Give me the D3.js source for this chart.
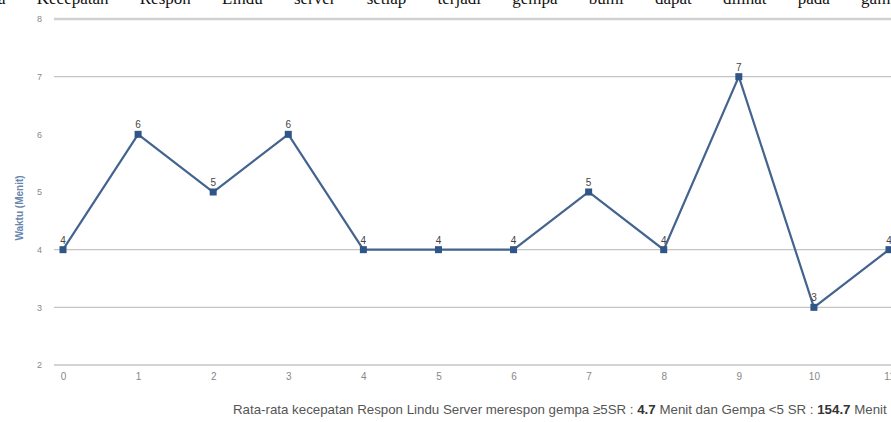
<!DOCTYPE html>
<html>
<head>
<meta charset="utf-8">
<script src="https://cdn.jsdelivr.net/npm/d3@7"></script>
<style>
  html, body { margin: 0; padding: 0; background: #fff; }
  svg { display: block; }
</style>
</head>
<body>
<svg id="chart" width="891" height="422"></svg>
<script>
// Response time (minutes) of the Lindu server for each earthquake event
const events = [0, 1, 2, 3, 4, 5, 6, 7, 8, 9, 10, 11];
const minutes = [4, 6, 5, 6, 4, 4, 4, 5, 4, 7, 3, 4];
const yTicks = [2, 3, 4, 5, 6, 7, 8];
const gridValues = [3, 4, 7, 8];
const headText = "a Kecepatan Respon Lindu server setiap terjadi gempa bumi dapat dilihat pada gambar";
const yTitle = "Waktu (Menit)";
const footParts = [
  { t: "Rata-rata kecepatan Respon Lindu Server merespon gempa \u22655SR : ", b: false },
  { t: "4.7", b: true },
  { t: " Menit dan Gempa <5 SR : ", b: false },
  { t: "154.7", b: true },
  { t: " Menit", b: false }
];

const svg = d3.select("#chart");

const x = d3.scaleLinear().domain([0, 11]).range([63, 889]);
const y = d3.scaleLinear().domain([2, 8]).range([365, 19]);

// paragraph line above the figure, clipped by the top edge
svg.append("text")
  .attr("x", -2).attr("y", 4)
  .attr("font-family", "Liberation Serif, serif")
  .attr("font-size", 17)
  .attr("word-spacing", 27)
  .attr("fill", "#111")
  .text(headText);

// horizontal grid lines
svg.append("g").selectAll("line")
  .data(gridValues)
  .join("line")
  .attr("x1", 54).attr("x2", 891)
  .attr("y1", d => y(d)).attr("y2", d => y(d))
  .attr("stroke", d => d === 8 ? "#d0d0d0" : "#c4c4c4")
  .attr("stroke-width", d => d === 8 ? 2.5 : 1.3);

// x axis baseline
svg.append("line")
  .attr("x1", 54).attr("x2", 891)
  .attr("y1", y(2)).attr("y2", y(2))
  .attr("stroke", "#c4c4c4").attr("stroke-width", 1.3);

// y axis
const yAxis = svg.append("g")
  .attr("transform", "translate(48,0)")
  .call(d3.axisLeft(y).tickValues(yTicks).tickSize(0).tickPadding(6).tickFormat(d3.format("d")));
yAxis.select(".domain").remove();
yAxis.selectAll("text")
  .attr("font-family", "Liberation Sans, Arial, sans-serif")
  .attr("font-size", 9)
  .attr("fill", "#888");

// x axis labels
const xAxis = svg.append("g")
  .attr("transform", `translate(0,${y(2)})`)
  .call(d3.axisBottom(x).tickValues(events).tickSize(0).tickPadding(8).tickFormat(d3.format("d")));
xAxis.select(".domain").remove();
xAxis.selectAll("text")
  .attr("font-family", "Liberation Sans, Arial, sans-serif")
  .attr("font-size", 10)
  .attr("fill", "#888");

// y axis title
svg.append("text")
  .attr("transform", `translate(23,${(y(8) + y(2)) / 2 + 16}) rotate(-90)`)
  .attr("text-anchor", "middle")
  .attr("font-family", "Liberation Sans, Arial, sans-serif")
  .attr("font-size", 10)
  .attr("font-weight", "bold")
  .attr("fill", "#6a86ad")
  .text(yTitle);

// series line
const line = d3.line().x((d, i) => x(events[i])).y(d => y(d));
svg.append("path")
  .datum(minutes)
  .attr("d", line)
  .attr("fill", "none")
  .attr("stroke", "#44648f")
  .attr("stroke-width", 2.2);

// square markers
svg.append("g").selectAll("rect")
  .data(minutes)
  .join("rect")
  .attr("x", (d, i) => x(events[i]) - 3.5)
  .attr("y", d => y(d) - 3.5)
  .attr("width", 7).attr("height", 7)
  .attr("fill", "#2f5687");

// value labels
svg.append("g").selectAll("text")
  .data(minutes)
  .join("text")
  .attr("x", (d, i) => x(events[i]))
  .attr("y", d => y(d) - 6)
  .attr("text-anchor", "middle")
  .attr("font-family", "Liberation Sans, Arial, sans-serif")
  .attr("font-size", 10)
  .attr("fill", "#444")
  .text(d => d);

// footnote with averages
const foot = svg.append("text")
  .attr("x", 233).attr("y", 414)
  .attr("font-family", "Liberation Sans, Arial, sans-serif")
  .attr("font-size", 13.3)
  .attr("fill", "#555");
foot.selectAll("tspan")
  .data(footParts)
  .join("tspan")
  .attr("font-weight", d => d.b ? "bold" : "normal")
  .attr("fill", d => d.b ? "#333" : "#555")
  .text(d => d.t);
</script>
</body>
</html>
